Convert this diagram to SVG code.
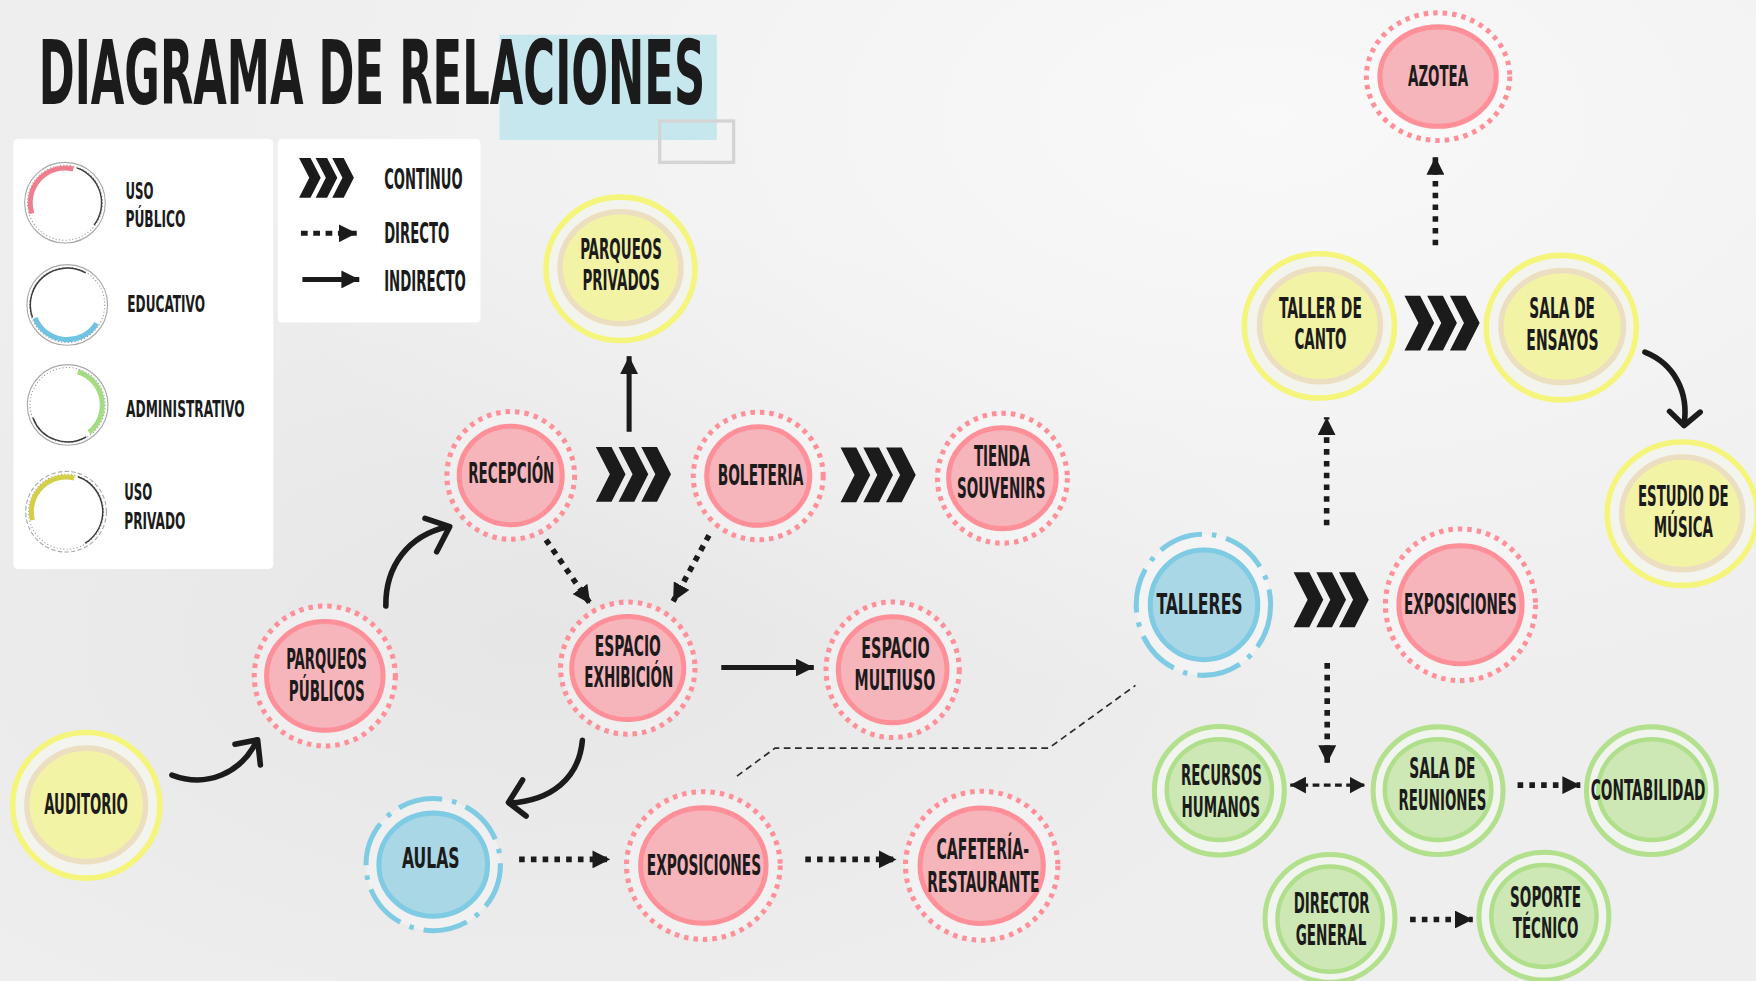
<svg xmlns="http://www.w3.org/2000/svg" xmlns:xlink="http://www.w3.org/1999/xlink" width="1756" height="981" viewBox="0 0 1756 981">
<defs>
<radialGradient id="bgA" cx="0.72" cy="0.12" r="0.6">
<stop offset="0" stop-color="#fafafa" stop-opacity="0.9"/>
<stop offset="1" stop-color="#fafafa" stop-opacity="0"/>
</radialGradient>
<radialGradient id="bgB" cx="0.3" cy="0.65" r="0.45">
<stop offset="0" stop-color="#e4e4e4" stop-opacity="0.8"/>
<stop offset="1" stop-color="#e4e4e4" stop-opacity="0"/>
</radialGradient>
<marker id="ah" viewBox="0 0 16 16" refX="16" refY="8" markerWidth="16" markerHeight="16" markerUnits="userSpaceOnUse" orient="auto">
<path d="M0 0 L16 8 L0 16 Z" fill="#1b1b1b"/>
</marker>
<marker id="ah2" viewBox="0 0 14 15" refX="14" refY="7.5" markerWidth="14" markerHeight="15" markerUnits="userSpaceOnUse" orient="auto-start-reverse">
<path d="M0 0 L14 7.5 L0 15 Z" fill="#1b1b1b"/>
</marker>
<g id="chev">
<path d="M0 0 L14 0 L26.5 24.5 L14 49 L0 49 L12.5 24.5Z"/>
<path d="M20.3 0 L34.3 0 L46.8 24.5 L34.3 49 L20.3 49 L32.8 24.5Z"/>
<path d="M40.6 0 L54.6 0 L67.1 24.5 L54.6 49 L40.6 49 L53.1 24.5Z"/>
</g>
</defs>
<style>
.t{font-family:"Liberation Sans Narrow","DejaVu Sans Condensed","Liberation Sans",sans-serif;font-weight:700;fill:#1b1b1b;text-anchor:middle;font-size:26px}
.e{text-anchor:end}
.lg{font-family:"Liberation Sans Narrow","DejaVu Sans Condensed","Liberation Sans",sans-serif;font-weight:700;fill:#1b1b1b;font-size:21px}
.lg2{font-size:25px}
.pk-in{fill:#f6b4bb;stroke:#ff8f99;stroke-width:4.5}
.pk-out{fill:#ffffff;fill-opacity:0.3;stroke:#ff8f99;stroke-width:4.5;stroke-dasharray:4 4.5}
.bl-in{fill:#a9d7e5;stroke:#7fcbe4;stroke-width:4.5}
.bl-out{fill:#ffffff;fill-opacity:0.3;stroke:#7fcbe4;stroke-width:4.5;stroke-dasharray:40 9 4 9}
.yl-out{fill:#f4f4ef;stroke:#f4f57a;stroke-width:5}
.yl-in{fill:#f3f3a6;stroke:#ecdfc1;stroke-width:5}
.gr-out{fill:#f2f5ef;stroke:#b2e08c;stroke-width:4.5}
.gr-in{fill:#cde8b4;stroke:#afdf8b;stroke-width:4}
.dot{fill:none;stroke:#1b1b1b;stroke-width:5;stroke-dasharray:5 5.5;marker-end:url(#ah)}
.sol{fill:none;stroke:#1b1b1b;stroke-width:4.5;marker-end:url(#ah)}
.crv{fill:none;stroke:#1b1b1b;stroke-width:5;stroke-linecap:round;stroke-linejoin:round}
.thin{fill:none;stroke:#2a2a2a;stroke-width:1.5;stroke-dasharray:6 4}
.chev{fill:#1b1b1b}
.box{fill:#ffffff}
.ring{fill:none;stroke:#a8a8a8;stroke-width:1}
.ringd{fill:none;stroke:#9a9a9a;stroke-width:1;stroke-dasharray:1 2}
.darc{fill:none;stroke:#3a3a3a;stroke-width:1.3}
</style>
<rect width="1756" height="981" fill="#eeeeee"/>
<rect width="1756" height="981" fill="url(#bgB)"/>
<rect width="1756" height="981" fill="url(#bgA)"/>
<g transform="scale(1.12)">
<g id="title">
<rect x="446" y="31" width="194" height="94" fill="#c7e7ef"/>
<rect x="589" y="108" width="66" height="37" fill="none" stroke="#d4d4d4" stroke-width="3"/>
<text x="34.6" y="93" font-size="79" textLength="595" lengthAdjust="spacingAndGlyphs" style="font-family:'Liberation Sans Narrow','DejaVu Sans Condensed','Liberation Sans',sans-serif;font-weight:700;fill:#1b1b1b">DIAGRAMA DE RELACIONES</text>
</g>
<g id="legend-types">
<rect class="box" x="12" y="124" width="232" height="384" rx="4"/>
<g id="legend-publico">
<circle class="ring" cx="58" cy="181" r="36"/>
<circle class="ringd" cx="58" cy="181" r="33.5"/>
<path class="darc" d="M68.6 149.9 A33 33 0 0 1 84 201"/>
<path d="M28.5 190.6 A31 31 0 0 1 65.5 150.9" fill="none" stroke="#ee7d8e" stroke-width="4.5"/>
<text class="lg" x="112" y="178" textLength="25" lengthAdjust="spacingAndGlyphs">USO</text>
<text class="lg" x="112" y="203" textLength="53.5" lengthAdjust="spacingAndGlyphs">PÚBLICO</text>
</g>
<g id="legend-educativo">
<circle class="ring" cx="60" cy="272.3" r="36"/>
<circle class="ringd" cx="60" cy="272.3" r="33.5"/>
<path class="darc" d="M29 283.5 A33 33 0 0 1 76.5 243.7"/>
<path d="M86.3 288.7 A31 31 0 0 1 31.3 283.9" fill="none" stroke="#6fc3e3" stroke-width="4.5"/>
<text class="lg" x="113.7" y="278.3" textLength="69.3" lengthAdjust="spacingAndGlyphs">EDUCATIVO</text>
</g>
<g id="legend-administrativo">
<circle class="ring" cx="60.4" cy="361.6" r="36"/>
<circle class="ringd" cx="60.4" cy="361.6" r="33.5"/>
<path class="darc" d="M77 390 A33 33 0 0 1 29.4 372.9"/>
<path d="M69.5 332 A31 31 0 0 1 79.5 386" fill="none" stroke="#a4dc83" stroke-width="4.5"/>
<text class="lg" x="112.5" y="372" textLength="106" lengthAdjust="spacingAndGlyphs">ADMINISTRATIVO</text>
</g>
<g id="legend-privado">
<circle class="ring" cx="59" cy="456.9" r="36" stroke-dasharray="4 2"/>
<circle class="ringd" cx="59" cy="456.9" r="33.5"/>
<path class="darc" d="M69.6 425.7 A33 33 0 0 1 76 485"/>
<path d="M28.9 464.4 A31 31 0 0 1 66.2 426.8" fill="none" stroke="#d3cf4a" stroke-width="4.5"/>
<text class="lg" x="111" y="446.4" textLength="25" lengthAdjust="spacingAndGlyphs">USO</text>
<text class="lg" x="111" y="472.5" textLength="54.5" lengthAdjust="spacingAndGlyphs">PRIVADO</text>
</g>
</g>
<g id="legend-lines">
<rect class="box" x="248" y="124" width="181" height="164" rx="4"/>
<use href="#chev" class="chev" transform="translate(267,141) scale(0.73,0.724)"/>
<text class="lg lg2" x="343" y="168.5" textLength="70" lengthAdjust="spacingAndGlyphs">CONTINUO</text>
<path class="dot" d="M268.7 208.3 L318.5 208.3" style="stroke-width:4.5;stroke-dasharray:6 5"/>
<text class="lg lg2" x="343" y="216.7" textLength="58" lengthAdjust="spacingAndGlyphs">DIRECTO</text>
<path class="sol" d="M270 249.5 L320.8 249.5"/>
<text class="lg lg2" x="343" y="260" textLength="73" lengthAdjust="spacingAndGlyphs">INDIRECTO</text>
</g>
<g id="connectors">
<path class="sol" d="M561.7 385.5 L561.7 318"/>
<use href="#chev" class="chev" x="532" y="399"/>
<use href="#chev" class="chev" x="750.5" y="399.5"/>
<use href="#chev" class="chev" x="1155" y="511"/>
<use href="#chev" class="chev" x="1254" y="264"/>
<path class="dot" d="M487.5 482 L527 539"/>
<path class="dot" d="M633 478 L601 537"/>
<path class="sol" d="M644 596 L726.6 596"/>
<path class="crv" d="M344.5 541 C344 505 365 478 399 470.5"/>
<path class="crv" d="M379.5 462.8 L401.5 470.2 L389.9 492.6"/>
<path class="crv" d="M153.5 692 C185 704 215 690 229 662"/>
<path class="crv" d="M209.8 664.5 L230 660.5 L232.5 683"/>
<path class="crv" d="M520 661 C517 695 492 715 455 717"/>
<path class="crv" d="M466.6 696.4 L454 716.5 L469.7 728.6"/>
<path class="dot" d="M463.5 767.3 L545 767.3"/>
<path class="dot" d="M719 767.3 L800.5 767.3"/>
<path class="thin" d="M658 693 L692 668 L936.4 668 L1013.8 612"/>
<path class="dot" d="M1184.5 469 L1184.5 372.5"/>
<path class="dot" d="M1281.6 219 L1281.6 140"/>
<path class="crv" d="M1468.7 314.4 C1495 325 1508 350 1503.6 379"/>
<path class="crv" d="M1490.7 367.3 L1503.6 380 L1518 368"/>
<path class="dot" d="M1185 592 L1185 681.5"/>
<path d="M1152 701 L1219 701" fill="none" stroke="#1b1b1b" stroke-width="3" stroke-dasharray="6 4" marker-start="url(#ah2)" marker-end="url(#ah2)"/>
<path class="dot" d="M1355 701 L1411 701"/>
<path class="dot" d="M1259 821 L1315 821"/>
</g>
<g id="node-parqueos-privados">
<ellipse class="yl-out" cx="554" cy="240" rx="66.5" ry="64"/>
<ellipse class="yl-in" cx="554" cy="239" rx="54" ry="50"/>
<text class="t" x="554.5" y="231.5" textLength="73" lengthAdjust="spacingAndGlyphs">PARQUEOS</text>
<text class="t" x="554.5" y="259" textLength="69" lengthAdjust="spacingAndGlyphs">PRIVADOS</text>
</g>
<g id="node-recepcion">
<ellipse class="pk-out" cx="456" cy="424.5" rx="57" ry="57"/>
<ellipse class="pk-in" cx="456" cy="424.5" rx="46" ry="44"/>
<text class="t" x="456.5" y="431" textLength="77" lengthAdjust="spacingAndGlyphs">RECEPCIÓN</text>
</g>
<g id="node-boleteria">
<ellipse class="pk-out" cx="677" cy="425" rx="58" ry="57"/>
<ellipse class="pk-in" cx="677" cy="425" rx="46" ry="44"/>
<text class="t" x="679" y="433" textLength="76.5" lengthAdjust="spacingAndGlyphs">BOLETERIA</text>
</g>
<g id="node-tienda">
<ellipse class="pk-out" cx="895" cy="427" rx="58" ry="58"/>
<ellipse class="pk-in" cx="895" cy="427" rx="48" ry="45"/>
<text class="t" x="894.6" y="416" textLength="50" lengthAdjust="spacingAndGlyphs">TIENDA</text>
<text class="t" x="894" y="445" textLength="79" lengthAdjust="spacingAndGlyphs">SOUVENIRS</text>
</g>
<g id="node-parqueos-publicos">
<ellipse class="pk-out" cx="290" cy="603.5" rx="63" ry="62.5"/>
<ellipse class="pk-in" cx="290" cy="603.5" rx="52" ry="48.5"/>
<text class="t" x="291.5" y="597.6" textLength="72" lengthAdjust="spacingAndGlyphs">PARQUEOS</text>
<text class="t" x="291.8" y="625.9" textLength="67.8" lengthAdjust="spacingAndGlyphs">PÚBLICOS</text>
</g>
<g id="node-espacio-exhibicion">
<ellipse class="pk-out" cx="560.5" cy="596.5" rx="60" ry="59"/>
<ellipse class="pk-in" cx="560.5" cy="596.5" rx="50" ry="46"/>
<text class="t" x="560.6" y="585.4" textLength="59" lengthAdjust="spacingAndGlyphs">ESPACIO</text>
<text class="t" x="561.5" y="613.7" textLength="79.5" lengthAdjust="spacingAndGlyphs">EXHIBICIÓN</text>
</g>
<g id="node-espacio-multiuso">
<ellipse class="pk-out" cx="797" cy="598" rx="59.5" ry="60.5"/>
<ellipse class="pk-in" cx="797" cy="598" rx="48.5" ry="47.3"/>
<text class="t" x="799.5" y="587.8" textLength="61" lengthAdjust="spacingAndGlyphs">ESPACIO</text>
<text class="t" x="799" y="616" textLength="72" lengthAdjust="spacingAndGlyphs">MULTIUSO</text>
</g>
<g id="node-auditorio">
<ellipse class="yl-out" cx="77" cy="719" rx="65.7" ry="65"/>
<ellipse class="yl-in" cx="77" cy="718.7" rx="53" ry="50.7"/>
<text class="t" x="76.8" y="727" textLength="74.5" lengthAdjust="spacingAndGlyphs">AUDITORIO</text>
</g>
<g id="node-aulas">
<ellipse class="bl-out" cx="386.8" cy="772" rx="60" ry="59"/>
<ellipse class="bl-in" cx="386.8" cy="772" rx="48.5" ry="46"/>
<text class="t" x="384.6" y="775.3" textLength="51.4" lengthAdjust="spacingAndGlyphs">AULAS</text>
</g>
<g id="node-exposiciones-1">
<ellipse class="pk-out" cx="628" cy="772.8" rx="68.6" ry="66"/>
<ellipse class="pk-in" cx="628" cy="772.8" rx="56" ry="51.5"/>
<text class="t" x="628.5" y="781.25" textLength="102" lengthAdjust="spacingAndGlyphs">EXPOSICIONES</text>
</g>
<g id="node-cafeteria">
<ellipse class="pk-out" cx="876.5" cy="773" rx="68" ry="66.5"/>
<ellipse class="pk-in" cx="876.5" cy="773" rx="55" ry="51.5"/>
<text class="t" x="877.5" y="767" textLength="82.6" lengthAdjust="spacingAndGlyphs">CAFETERÍA-</text>
<text class="t" x="878" y="796.1" textLength="100.3" lengthAdjust="spacingAndGlyphs">RESTAURANTE</text>
</g>
<g id="node-azotea">
<ellipse class="pk-out" cx="1284" cy="68.4" rx="64" ry="57"/>
<ellipse class="pk-in" cx="1284" cy="68.4" rx="52" ry="44.4"/>
<text class="t" x="1284" y="77" textLength="53.6" lengthAdjust="spacingAndGlyphs">AZOTEA</text>
</g>
<g id="node-taller-canto">
<ellipse class="yl-out" cx="1178" cy="291" rx="67" ry="64.4"/>
<ellipse class="yl-in" cx="1178.5" cy="290.5" rx="54" ry="50.3"/>
<text class="t" x="1179" y="283.6" textLength="74" lengthAdjust="spacingAndGlyphs">TALLER DE</text>
<text class="t" x="1179" y="312" textLength="46.5" lengthAdjust="spacingAndGlyphs">CANTO</text>
</g>
<g id="node-sala-ensayos">
<ellipse class="yl-out" cx="1394" cy="292.5" rx="67" ry="64.5"/>
<ellipse class="yl-in" cx="1394.8" cy="291.6" rx="54.7" ry="50"/>
<text class="t" x="1394.8" y="284.3" textLength="58.6" lengthAdjust="spacingAndGlyphs">SALA DE</text>
<text class="t" x="1395" y="312.7" textLength="64.4" lengthAdjust="spacingAndGlyphs">ENSAYOS</text>
</g>
<g id="node-estudio-musica">
<ellipse class="yl-out" cx="1502" cy="458.7" rx="67" ry="64"/>
<ellipse class="yl-in" cx="1502" cy="458.3" rx="54" ry="50.3"/>
<text class="t e" x="1543.5" y="451.7" textLength="81" lengthAdjust="spacingAndGlyphs">ESTUDIO DE</text>
<text class="t e" x="1529.5" y="479.4" textLength="53" lengthAdjust="spacingAndGlyphs">MÚSICA</text>
</g>
<g id="node-talleres">
<ellipse class="bl-out" cx="1074.5" cy="540" rx="60" ry="63"/>
<ellipse class="bl-in" cx="1075" cy="540" rx="48" ry="49"/>
<text class="t" x="1071" y="548.5" textLength="77" lengthAdjust="spacingAndGlyphs">TALLERES</text>
</g>
<g id="node-exposiciones-2">
<ellipse class="pk-out" cx="1304" cy="540" rx="67" ry="67.7"/>
<ellipse class="pk-in" cx="1304" cy="540" rx="55" ry="52.7"/>
<text class="t" x="1304" y="548.5" textLength="100.7" lengthAdjust="spacingAndGlyphs">EXPOSICIONES</text>
</g>
<g id="node-recursos-humanos">
<ellipse class="gr-out" cx="1088.7" cy="706" rx="58" ry="57.3"/>
<ellipse class="gr-in" cx="1088.7" cy="705" rx="47" ry="45"/>
<text class="t" x="1090.6" y="700.9" textLength="72.4" lengthAdjust="spacingAndGlyphs">RECURSOS</text>
<text class="t" x="1090" y="729.2" textLength="70" lengthAdjust="spacingAndGlyphs">HUMANOS</text>
</g>
<g id="node-sala-reuniones">
<ellipse class="gr-out" cx="1284" cy="706" rx="58" ry="57"/>
<ellipse class="gr-in" cx="1284" cy="705" rx="47.6" ry="45"/>
<text class="t" x="1287.8" y="694.9" textLength="59" lengthAdjust="spacingAndGlyphs">SALA DE</text>
<text class="t" x="1287.8" y="723.2" textLength="78.5" lengthAdjust="spacingAndGlyphs">REUNIONES</text>
</g>
<g id="node-contabilidad">
<ellipse class="gr-out" cx="1474.5" cy="706" rx="58" ry="57"/>
<ellipse class="gr-in" cx="1475" cy="705" rx="48" ry="45"/>
<text class="t e" x="1522.75" y="714.3" textLength="102.5" lengthAdjust="spacingAndGlyphs">CONTABILIDAD</text>
</g>
<g id="node-director-general">
<ellipse class="gr-out" cx="1187.5" cy="820" rx="58" ry="57"/>
<ellipse class="gr-in" cx="1187.6" cy="820.7" rx="47" ry="47"/>
<text class="t" x="1189" y="815.5" textLength="67.8" lengthAdjust="spacingAndGlyphs">DIRECTOR</text>
<text class="t" x="1188.4" y="843.75" textLength="63" lengthAdjust="spacingAndGlyphs">GENERAL</text>
</g>
<g id="node-soporte-tecnico">
<ellipse class="gr-out" cx="1378.5" cy="818" rx="58" ry="57"/>
<ellipse class="gr-in" cx="1378.5" cy="817.8" rx="47" ry="45.5"/>
<text class="t" x="1380" y="809.5" textLength="63.4" lengthAdjust="spacingAndGlyphs">SOPORTE</text>
<text class="t" x="1380" y="837.8" textLength="58.7" lengthAdjust="spacingAndGlyphs">TÉCNICO</text>
</g>
</g>
</svg>
